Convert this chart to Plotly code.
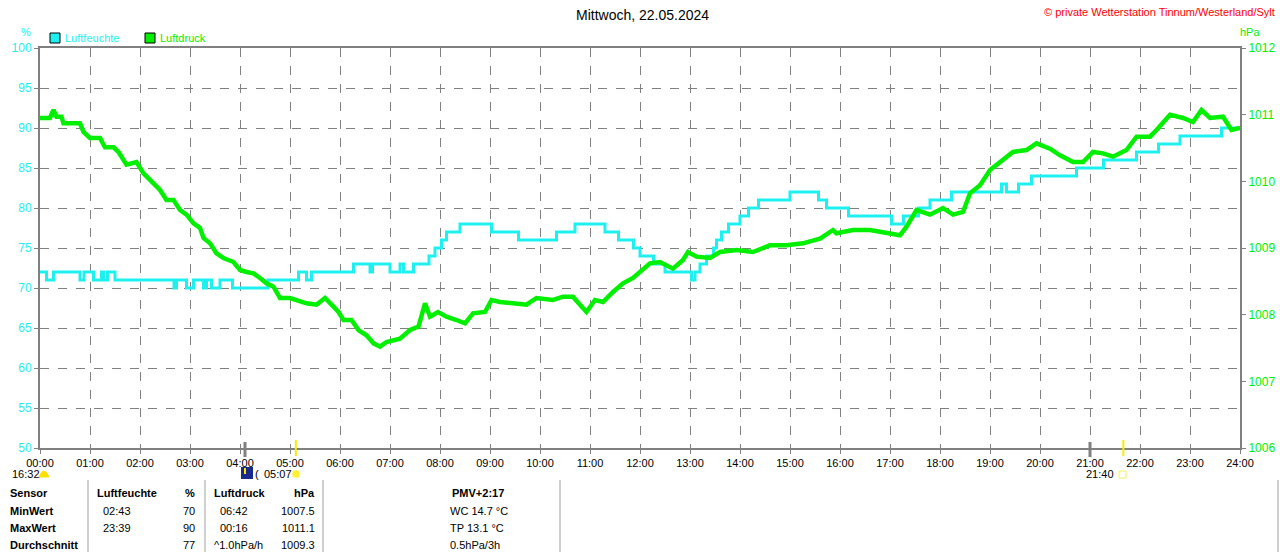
import plotly.graph_objects as go

# Humidity (%): step changes, start hour and value
hum_hours = [0.00, 0.13, 0.27, 0.80, 0.88, 1.07, 1.23, 1.27, 1.35, 1.50, 2.68, 2.73, 2.93, 3.07,
             3.27, 3.33, 3.43, 3.60, 3.85, 4.56, 5.17, 5.33, 5.43, 6.27, 6.60, 6.65, 7.00, 7.20,
             7.27, 7.47, 7.78, 7.90, 8.03, 8.13, 8.40, 9.03, 9.57, 10.33, 10.70, 11.30, 11.57,
             11.87, 12.00, 12.27, 12.50, 13.03, 13.10, 13.20, 13.33, 13.47, 13.53, 13.63, 13.77,
             14.00, 14.17, 14.37, 15.00, 15.57, 15.73, 16.17, 17.03, 17.27, 17.57, 17.80, 18.23,
             19.23, 19.33, 19.57, 19.83, 20.73, 21.27, 21.93, 22.37, 22.80, 23.63, 24.00]
hum_vals = [72, 71, 72, 71, 72, 71, 72, 71, 72, 71, 70, 71, 70, 71,
            70, 71, 70, 71, 70, 71, 72, 71, 72, 73, 72, 73, 72, 73,
            72, 73, 74, 75, 76, 77, 78, 77, 76, 77, 78, 77, 76,
            75, 74, 73, 72, 71, 72, 73, 74, 75, 76, 77, 78,
            79, 80, 81, 82, 81, 80, 79, 78, 79, 80, 81, 82,
            83, 82, 83, 84, 85, 86, 87, 88, 89, 90, 90]

# Air pressure (hPa)
p_hours = [0.00, 0.20, 0.27, 0.33, 0.43, 0.47, 0.80, 0.87, 1.00, 1.20, 1.30, 1.47, 1.57, 1.73,
           1.93, 2.07, 2.27, 2.40, 2.53, 2.67, 2.80, 2.93, 3.07, 3.20, 3.27, 3.40, 3.53, 3.67,
           3.87, 4.00, 4.13, 4.27, 4.40, 4.53, 4.67, 4.80, 5.00, 5.13, 5.33, 5.53, 5.70, 5.87,
           5.97, 6.07, 6.23, 6.37, 6.53, 6.67, 6.80, 6.93, 7.07, 7.20, 7.40, 7.57, 7.70, 7.80,
           7.96, 8.13, 8.33, 8.50, 8.66, 8.90, 9.03, 9.20, 9.46, 9.73, 9.93, 10.26, 10.46, 10.66,
           10.80, 10.93, 11.10, 11.26, 11.46, 11.66, 11.86, 12.06, 12.20, 12.40, 12.66, 12.86,
           12.96, 13.13, 13.40, 13.60, 13.93, 14.26, 14.60, 14.93, 15.26, 15.60, 15.86, 15.93,
           16.26, 16.60, 16.93, 17.20, 17.33, 17.53, 17.80, 18.06, 18.26, 18.46, 18.60, 18.80,
           19.00, 19.20, 19.46, 19.73, 19.93, 20.20, 20.40, 20.66, 20.86, 21.06, 21.26, 21.46,
           21.73, 21.93, 22.20, 22.33, 22.46, 22.60, 22.86, 23.06, 23.23, 23.40, 23.66, 23.83, 24.00]
p_vals = [1010.95, 1010.95, 1011.07, 1010.97, 1010.97, 1010.87, 1010.87, 1010.74, 1010.65, 1010.65,
          1010.51, 1010.51, 1010.44, 1010.25, 1010.29, 1010.12, 1009.97, 1009.87, 1009.72, 1009.72,
          1009.57, 1009.50, 1009.37, 1009.30, 1009.15, 1009.07, 1008.92, 1008.85, 1008.79, 1008.67,
          1008.64, 1008.62, 1008.55, 1008.47, 1008.42, 1008.25, 1008.25, 1008.22, 1008.17, 1008.15,
          1008.25, 1008.12, 1008.04, 1007.92, 1007.92, 1007.77, 1007.69, 1007.57, 1007.52, 1007.59,
          1007.62, 1007.64, 1007.77, 1007.82, 1008.17, 1007.97, 1008.04, 1007.97, 1007.92, 1007.87,
          1008.02, 1008.04, 1008.22, 1008.19, 1008.17, 1008.15, 1008.25, 1008.22, 1008.27, 1008.27,
          1008.15, 1008.04, 1008.22, 1008.19, 1008.34, 1008.47, 1008.55, 1008.67, 1008.77, 1008.79,
          1008.69, 1008.82, 1008.94, 1008.87, 1008.85, 1008.94, 1008.97, 1008.94, 1009.04, 1009.04,
          1009.07, 1009.14, 1009.27, 1009.22, 1009.27, 1009.27, 1009.22, 1009.19, 1009.32, 1009.57,
          1009.50, 1009.60, 1009.50, 1009.54, 1009.82, 1009.94, 1010.17, 1010.29, 1010.44, 1010.47,
          1010.57, 1010.49, 1010.39, 1010.29, 1010.29, 1010.44, 1010.42, 1010.37, 1010.47, 1010.67,
          1010.67, 1010.77, 1010.87, 1011.00, 1010.95, 1010.89, 1011.07, 1010.95, 1010.97, 1010.77,
          1010.80]

hour_ticks = list(range(25))
hour_labels = ["%02d:00" % h for h in hour_ticks]
hum_ticks = [50, 55, 60, 65, 70, 75, 80, 85, 90, 95, 100]
p_ticks = [1006, 1007, 1008, 1009, 1010, 1011, 1012]

sun_marks = [5 + 7 / 60, 21 + 40 / 60]   # sunrise 05:07, sunset 21:40
moon_marks = [4.1, 21.0]

table_rows = [
    ["<b>Sensor</b>", "<b>Luftfeuchte</b>", "<b>%</b>", "<b>Luftdruck</b>", "<b>hPa</b>", "<b>PMV+2:17</b>"],
    ["<b>MinWert</b>", "02:43", "70", "06:42", "1007.5", "WC 14.7 °C"],
    ["<b>MaxWert</b>", "23:39", "90", "00:16", "1011.1", "TP 13.1 °C"],
    ["<b>Durchschnitt</b>", "", "77", "^1.0hPa/h", "1009.3", "0.5hPa/3h"],
]

CYAN = "#1EF0F0"
GREEN = "#00F000"
FONT = "Liberation Sans"

W, H = 1280, 552
L, R, T, B = 40, 40, 48, 104


def px(x):
    return (x - L) / (W - L - R)


def py(y):
    return (H - B - y) / (H - T - B)


fig = go.Figure()
fig.add_trace(go.Scatter(x=hum_hours, y=hum_vals, mode="lines", line=dict(color=CYAN, width=3, shape="hv"),
                         name="Luftfeuchte"))
fig.add_trace(go.Scatter(x=p_hours, y=p_vals, mode="lines", line=dict(color=GREEN, width=4.5),
                         name="Luftdruck", yaxis="y2"))

fig.update_layout(
    width=W, height=H, margin=dict(l=L, r=R, t=T, b=B, autoexpand=False),
    paper_bgcolor="white", plot_bgcolor="white", showlegend=False,
    font=dict(family=FONT, size=11, color="black"),
    xaxis=dict(range=[0, 24], tickvals=hour_ticks, ticktext=hour_labels, showline=True,
               linecolor="#808080", linewidth=2, mirror=True, ticks="outside", ticklen=4,
               tickcolor="#808080", showgrid=True, gridcolor="#808080", griddash="dash",
               gridwidth=1, zeroline=False, automargin=False, tickfont=dict(size=11, color="black")),
    yaxis=dict(range=[50, 100], tickvals=hum_ticks, showline=True, linecolor="#808080",
               linewidth=2, ticks="outside", ticklen=4, tickcolor="#808080", showgrid=True,
               gridcolor="#808080", griddash="dash", gridwidth=1, zeroline=False, automargin=False,
               tickfont=dict(size=12, color=CYAN)),
    yaxis2=dict(range=[1006, 1012], tickvals=p_ticks, overlaying="y", side="right",
                showline=True, linecolor="#808080", linewidth=2, ticks="outside", ticklen=4,
                tickcolor="#808080", showgrid=False, zeroline=False, automargin=False,
                tickfont=dict(size=12, color=GREEN)),
)

ann = []


def text(x, y, s, color="black", size=11, anchor="left"):
    ann.append(dict(x=px(x), y=py(y), xref="paper", yref="paper", text=s, showarrow=False,
                    xanchor=anchor, yanchor="middle", font=dict(family=FONT, size=size, color=color)))


text(642, 15, "Mittwoch, 22.05.2024", size=14, anchor="center")
text(1277, 12, "© private Wetterstation Tinnum/Westerland/Sylt", color="red", size=11, anchor="right")
text(26, 32, "%", color=CYAN, anchor="center")
text(1250, 32, "hPa", color=GREEN, anchor="center")
text(63, 38, "Luftfeuchte", color=CYAN)
text(158, 38, "Luftdruck", color=GREEN)
text(10, 474, "16:32")
text(253, 474, "(")
text(262, 474, "05:07")
text(1116, 474, "21:40", anchor="right")

# table
col_x = [8, 95, 197, 212, 317, 448]
col_anchor = ["left", "left", "right", "left", "right", "left"]
row_y = [493, 511, 528, 545]
for r, row in enumerate(table_rows):
    for c, s in enumerate(row):
        x = col_x[c]
        a = col_anchor[c]
        if r > 0 and c in (1, 3) and not s.startswith("^"):
            x += 6
        if r == 0 and c == 5:
            x, a = 478, "center"
        text(x, row_y[r], s, anchor=a)

fig.update_layout(annotations=ann)

shapes = []
# legend boxes
for x0, col in [(50, CYAN), (145, GREEN)]:
    shapes.append(dict(type="rect", xref="paper", yref="paper", x0=px(x0), x1=px(x0 + 10),
                       y0=py(43), y1=py(33), fillcolor=col, line=dict(color="black", width=1)))
# sun / moon markers on x axis
for t in moon_marks:
    shapes.append(dict(type="line", xref="x", yref="paper", x0=t, x1=t, y0=py(442), y1=py(457),
                       line=dict(color="#808080", width=3)))
for t in sun_marks:
    shapes.append(dict(type="line", xref="x", yref="paper", x0=t, x1=t, y0=py(440), y1=py(456),
                       line=dict(color="#F0F000", width=2)))
# icons
shapes.append(dict(type="path", xref="paper", yref="paper",
                   path="M %f %f Q %f %f %f %f Z" % (px(39), py(477), px(44), py(465), px(49), py(477)),
                   fillcolor="#FFE000", line=dict(color="#FFE000", width=1)))
shapes.append(dict(type="rect", xref="paper", yref="paper", x0=px(241), x1=px(253), y0=py(479),
                   y1=py(467), fillcolor="#1A2A8A", line=dict(width=0)))
shapes.append(dict(type="line", xref="paper", yref="paper", x0=px(245), x1=px(245), y0=py(468),
                   y1=py(474), line=dict(color="#FFE000", width=2)))
shapes.append(dict(type="circle", xref="paper", yref="paper", x0=px(292), x1=px(300), y0=py(478),
                   y1=py(470), fillcolor="#FFF030", line=dict(color="#FFF8A0", width=1)))
shapes.append(dict(type="rect", xref="paper", yref="paper", x0=px(1119), x1=px(1126), y0=py(478),
                   y1=py(471), fillcolor="white", line=dict(color="#F0F060", width=1)))
# table separators
for x in [88, 205, 323, 560, 1278]:
    shapes.append(dict(type="line", xref="paper", yref="paper", x0=px(x), x1=px(x), y0=py(480),
                       y1=py(552), line=dict(color="#A0A0A0", width=1)))
fig.update_layout(shapes=shapes)

fig.write_html("out.html", config={"displayModeBar": False},
               post_script="document.body.style.margin='0';")
